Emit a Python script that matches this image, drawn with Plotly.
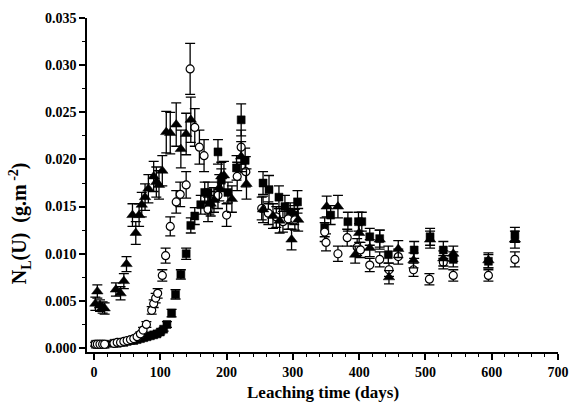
import plotly.graph_objects as go

# ---- data ----
sq_days = [2, 5, 8, 11, 14, 17,
           30, 35, 40, 45, 50, 55, 60, 65, 70, 75, 80, 85, 90, 95, 100, 105,
           110, 117, 123, 131, 139, 146, 152, 161, 167, 172, 174, 187, 192, 202, 215, 222, 228,
           255, 264, 279, 288, 296, 302, 307,
           348, 357, 383, 399, 404, 416, 431, 444, 483, 507, 527, 542, 595, 635]
sq_vals = [0.0004, 0.0004, 0.0004, 0.0004, 0.0004, 0.0004,
           0.0005, 0.0005, 0.0006, 0.0006, 0.0007, 0.0008, 0.0008, 0.0009, 0.0010, 0.0011,
           0.0012, 0.0013, 0.0014, 0.0015, 0.0017, 0.0020,
           0.0025, 0.0037, 0.0057, 0.0078, 0.0100, 0.0130, 0.0140, 0.0152, 0.0165, 0.0165,
           0.0152, 0.0208, 0.0178, 0.0165, 0.0191, 0.0242, 0.0199,
           0.0175, 0.0168, 0.0160, 0.0150, 0.0143, 0.0141, 0.0155,
           0.0128, 0.0141, 0.0134, 0.0134, 0.0134, 0.0118, 0.0116, 0.0099, 0.0104, 0.0118,
           0.0104, 0.0094, 0.0092, 0.0120]
sq_errs = [0.0002, 0.0002, 0.0002, 0.0002, 0.0002, 0.0002,
           0.0002, 0.0002, 0.0002, 0.0002, 0.0002, 0.0002, 0.0002, 0.0002, 0.0002, 0.0002,
           0.0002, 0.0002, 0.0002, 0.0002, 0.0002, 0.0002,
           0.0003, 0.0004, 0.0005, 0.0005, 0.0006, 0.0008, 0.0009, 0.0010, 0.0011, 0.0011,
           0.0010, 0.0013, 0.0012, 0.0011, 0.0013, 0.0017, 0.0013,
           0.0012, 0.0015, 0.0012, 0.0012, 0.0011, 0.0010, 0.0012,
           0.0010, 0.0010, 0.0010, 0.0010, 0.0010, 0.0009, 0.0009, 0.0009, 0.0009, 0.0009,
           0.0009, 0.0008, 0.0007, 0.0008]

ci_days = [2, 5, 9, 13, 16,
           30, 35, 40, 45, 50, 55, 60, 65, 70, 74, 79,
           87, 90, 93, 96, 103, 108, 115, 124, 130, 139,
           145, 152, 159, 166, 172, 187, 200, 216, 222, 229,
           253, 263, 275, 285, 293, 303,
           348, 350, 368, 382, 397, 402, 416, 431, 445, 459, 482, 506, 527, 542, 595, 635]
ci_vals = [0.0004, 0.0004, 0.0004, 0.0004, 0.0004,
           0.0005, 0.0006, 0.0006, 0.0007, 0.0008, 0.0009, 0.0010, 0.0012, 0.0015, 0.0019, 0.0025,
           0.0040, 0.0047, 0.0053, 0.0058, 0.0077, 0.0098, 0.0129, 0.0155, 0.0163, 0.0173,
           0.0296, 0.0234, 0.0213, 0.0204, 0.0147, 0.0162, 0.0141, 0.0182, 0.0213, 0.0187,
           0.0148, 0.0143, 0.0139, 0.0134, 0.0137, 0.0136,
           0.0123, 0.0112, 0.0100, 0.0117, 0.0107, 0.0104, 0.0088, 0.0094, 0.0083, 0.0097,
           0.0083, 0.0073, 0.0091, 0.0077, 0.0077, 0.0094]
ci_errs = [0.0002, 0.0002, 0.0002, 0.0002, 0.0002,
           0.0002, 0.0002, 0.0002, 0.0002, 0.0002, 0.0002, 0.0002, 0.0002, 0.0002, 0.0003, 0.0003,
           0.0004, 0.0004, 0.0005, 0.0005, 0.0006, 0.0008, 0.0010, 0.0012, 0.0013, 0.0014,
           0.0027, 0.0020, 0.0018, 0.0017, 0.0013, 0.0014, 0.0012, 0.0015, 0.0018, 0.0016,
           0.0012, 0.0012, 0.0011, 0.0011, 0.0011, 0.0011,
           0.0010, 0.0009, 0.0008, 0.0009, 0.0009, 0.0008, 0.0007, 0.0008, 0.0007, 0.0008,
           0.0007, 0.0006, 0.0007, 0.0006, 0.0006, 0.0008]

tr_days = [2, 5, 9, 13, 16,
           33, 40, 45, 49,
           58, 63, 68, 72, 77, 82, 90, 94, 98, 103, 109, 115, 124, 131, 139, 146,
           176, 181, 189, 192, 196, 208, 222, 230, 255, 270, 280, 298, 308,
           351, 368, 394, 400, 416, 431, 445, 459, 482, 507, 527, 542, 595, 635]
tr_vals = [0.0047, 0.0060, 0.0045, 0.0043, 0.0042,
           0.0062, 0.0058, 0.0071, 0.0089,
           0.0141, 0.0122, 0.0141, 0.0152, 0.0160, 0.0169, 0.0182, 0.0176, 0.0173, 0.0188,
           0.0229, 0.0228, 0.0237, 0.0211, 0.0227, 0.0242,
           0.0153, 0.0157, 0.0170, 0.0182, 0.0183, 0.0158, 0.0203, 0.0174, 0.0147, 0.0140,
           0.0135, 0.0115, 0.0136,
           0.0150, 0.0150, 0.0099, 0.0122, 0.0106, 0.0115, 0.0075, 0.0105, 0.0093, 0.0115,
           0.0095, 0.0100, 0.0093, 0.0115]
tr_errs = [0.0007, 0.0007, 0.0006, 0.0006, 0.0006,
           0.0007, 0.0007, 0.0008, 0.0008,
           0.0012, 0.0012, 0.0012, 0.0013, 0.0014, 0.0015, 0.0016, 0.0016, 0.0015, 0.0016,
           0.0022, 0.0022, 0.0023, 0.0020, 0.0022, 0.0024,
           0.0013, 0.0013, 0.0014, 0.0015, 0.0015, 0.0014, 0.0016, 0.0016, 0.0014, 0.0013,
           0.0013, 0.0011, 0.0012,
           0.0011, 0.0012, 0.0009, 0.0010, 0.0009, 0.0010, 0.0007, 0.0009, 0.0008, 0.0009,
           0.0008, 0.0008, 0.0008, 0.0009]

x_title = "Leaching time (days)"
y_title = "N<sub>L</sub>(U)  (g.m<sup> -2</sup>)"

FONT = "Liberation Serif"

def err(arr):
    return dict(type="data", array=arr, visible=True, color="black",
                thickness=1.3, width=5)

fig = go.Figure()
fig.add_trace(go.Scatter(x=sq_days, y=sq_vals, mode="markers", error_y=err(sq_errs),
                         marker=dict(symbol="square", size=8, color="black",
                                     line=dict(color="black", width=0.5))))
fig.add_trace(go.Scatter(x=ci_days, y=ci_vals, mode="markers", error_y=err(ci_errs),
                         marker=dict(symbol="circle", size=8, color="white",
                                     line=dict(color="black", width=1.2))))
fig.add_trace(go.Scatter(x=tr_days, y=tr_vals, mode="markers", error_y=err(tr_errs),
                         marker=dict(symbol="triangle-up", size=10, color="black",
                                     line=dict(color="black", width=0.5))))

fig.update_layout(
    width=570, height=404,
    margin=dict(l=87, r=12, t=18, b=52),
    paper_bgcolor="white", plot_bgcolor="white",
    showlegend=False,
    font=dict(family=FONT, size=14, color="black", weight="bold"),
    xaxis=dict(range=[-10.6, 700], dtick=100, tick0=0, showgrid=False, zeroline=False,
               automargin=False,
               showline=True, linecolor="black", linewidth=1.5,
               ticks="outside", ticklen=6, tickwidth=1.5, tickcolor="black",
               minor=dict(ticks="outside", dtick=20, ticklen=3, tickwidth=1.2, tickcolor="black"),
               tickfont=dict(family=FONT, size=14, weight="bold")),
    yaxis=dict(range=[-0.00042, 0.035], dtick=0.005, tick0=0, tickformat=".3f",
               showgrid=False, zeroline=False, automargin=False,
               showline=True, linecolor="black", linewidth=1.5,
               ticks="outside", ticklen=6, tickwidth=1.5, tickcolor="black",
               minor=dict(ticks="outside", dtick=0.0025, ticklen=3, tickwidth=1.2, tickcolor="black"),
               tickfont=dict(family=FONT, size=14, weight="bold")),
    annotations=[
        dict(text=y_title, xref="paper", yref="paper", x=-0.142, y=0.386,
             textangle=-90, showarrow=False, xanchor="center", yanchor="middle",
             font=dict(family=FONT, size=20, weight="bold")),
        dict(text=x_title, xref="paper", yref="paper", x=0.5, y=-0.12,
             showarrow=False, xanchor="center", yanchor="middle",
             font=dict(family=FONT, size=17, weight="bold")),
    ],
)

fig.write_html("out.html")
